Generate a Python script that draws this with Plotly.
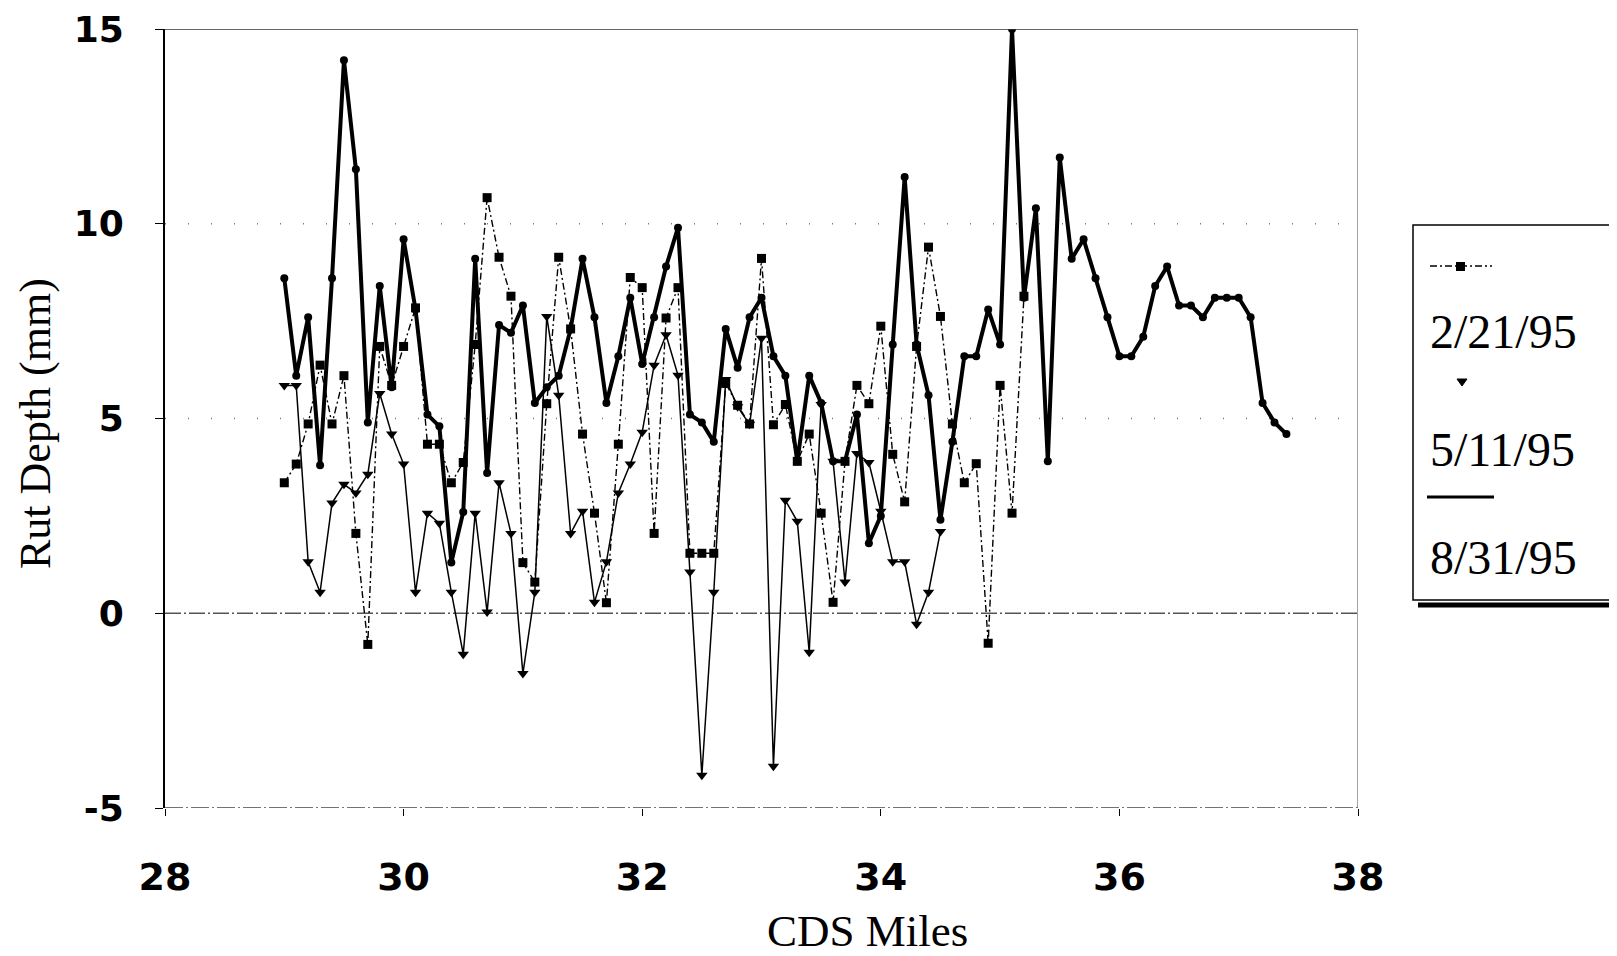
import plotly.graph_objects as go

miles = [29.0, 29.1, 29.2, 29.3, 29.4, 29.5, 29.6, 29.7, 29.8, 29.9,
         30.0, 30.1, 30.2, 30.3, 30.4, 30.5, 30.6, 30.7, 30.8, 30.9,
         31.0, 31.1, 31.2, 31.3, 31.4, 31.5, 31.6, 31.7, 31.8, 31.9,
         32.0, 32.1, 32.2, 32.3, 32.4, 32.5, 32.6, 32.7, 32.8, 32.9,
         33.0, 33.1, 33.2, 33.3, 33.4, 33.5, 33.6, 33.7, 33.8, 33.9,
         34.0, 34.1, 34.2, 34.3, 34.4, 34.5, 34.6, 34.7, 34.8, 34.9,
         35.0, 35.1, 35.2, 35.3, 35.4, 35.5, 35.6, 35.7, 35.8, 35.9,
         36.0, 36.1, 36.2, 36.3, 36.4, 36.5, 36.6, 36.7, 36.8, 36.9,
         37.0, 37.1, 37.2, 37.3, 37.4]

rut_feb = [3.35, 3.83, 4.86, 6.37, 4.86, 6.1, 2.05, -0.8, 6.85, 5.85,
           6.85, 7.84, 4.34, 4.34, 3.35, 3.87, 6.9, 10.67, 9.14, 8.14,
           1.3, 0.8, 5.38, 9.14, 7.3, 4.6, 2.57, 0.27, 4.34, 8.62,
           8.36, 2.05, 7.58, 8.36, 1.54, 1.54, 1.54, 5.9, 5.34, 4.86,
           9.11, 4.84, 5.36, 3.9, 4.6, 2.57, 0.28, 3.9, 5.85, 5.38,
           7.37, 4.08, 2.86, 6.85, 9.4, 7.62, 4.86, 3.35, 3.84, -0.77,
           5.85, 2.57, 8.14]

rut_may = [5.85, 5.85, 1.32, 0.54, 2.83, 3.31, 3.09, 3.57, 5.64, 4.6,
           3.83, 0.54, 2.57, 2.31, 0.54, -1.05, 2.57, 0.03, 3.35, 2.05,
           -1.55, 0.54, 7.62, 5.6, 2.05, 2.62, 0.28, 1.32, 3.09, 3.83,
           4.65, 6.37, 7.15, 6.11, 1.06, -4.16, 0.54, 6.0, 5.3, 4.85,
           7.06, -3.93, 2.9, 2.36, -1.0, 5.36, 3.9, 0.8, 4.1, 3.87,
           2.62, 1.32, 1.32, -0.28, 0.54, 2.1]

rut_aug = [8.6, 6.1, 7.6, 3.8, 8.6, 14.2, 11.4, 4.9, 8.4, 5.8,
           9.6, 7.8, 5.1, 4.8, 1.3, 2.6, 9.1, 3.6, 7.4, 7.2,
           7.9, 5.4, 5.8, 6.1, 7.3, 9.1, 7.6, 5.4, 6.6, 8.1,
           6.4, 7.6, 8.9, 9.9, 5.1, 4.9, 4.4, 7.3, 6.3, 7.6,
           8.1, 6.6, 6.1, 3.9, 6.1, 5.4, 3.9, 3.9, 5.1, 1.8,
           2.5, 6.9, 11.2, 6.9, 5.6, 2.4, 4.4, 6.6, 6.6, 7.8,
           6.9, 15.0, 8.1, 10.4, 3.9, 11.7, 9.1, 9.6, 8.6, 7.6,
           6.6, 6.6, 7.1, 8.4, 8.9, 7.9, 7.9, 7.6, 8.1, 8.1,
           8.1, 7.6, 5.4, 4.9, 4.6]

series_names = ["2/21/95", "5/11/95", "8/31/95"]
x_ticks = [28, 30, 32, 34, 36, 38]
y_ticks = [-5, 0, 5, 10, 15]

OFF = 8  # browser body margin
W, H = 1617 - OFF, 956 - OFF
# plot area in (screen) pixels, converted to figure pixels
L, R, T, B = 165 - OFF, 1358 - OFF, 29 - OFF, 808 - OFF


def px(xs):
    return (xs - OFF - L) / (R - L)


def py(ys):
    return (B - (ys - OFF)) / (B - T)


DASH_FEB = "7px,3px,2px,3px"

fig = go.Figure()
fig.add_trace(go.Scatter(
    x=miles[:len(rut_feb)], y=rut_feb, name=series_names[0], mode="lines+markers",
    line=dict(color="black", width=1.4, dash=DASH_FEB),
    marker=dict(symbol="square", size=9, color="black")))
fig.add_trace(go.Scatter(
    x=miles[:len(rut_may)], y=rut_may, name=series_names[1], mode="lines+markers",
    line=dict(color="black", width=1.5),
    marker=dict(symbol="triangle-down", size=10, color="black")))
fig.add_trace(go.Scatter(
    x=miles[:len(rut_aug)], y=rut_aug, name=series_names[2], mode="lines+markers",
    line=dict(color="black", width=4),
    marker=dict(symbol="circle", size=8, color="black")))

shapes = []
for gy in [5, 10]:
    shapes.append(dict(type="line", xref="x", yref="y", x0=28, x1=38, y0=gy, y1=gy,
                       line=dict(color="#777", width=1.3, dash="1px,22px"), layer="below"))
shapes.append(dict(type="line", xref="x", yref="y", x0=28, x1=38, y0=0, y1=0,
                   line=dict(color="#555", width=1.4, dash="16px,3px,2px,3px"), layer="below"))
shapes.append(dict(type="line", xref="x", yref="y", x0=28, x1=38, y0=-5, y1=-5,
                   line=dict(color="#444", width=1.4, dash="18px,3px,2px,3px"), layer="below"))
shapes.append(dict(type="line", xref="x", yref="y", x0=28, x1=38, y0=15, y1=15,
                   line=dict(color="#333", width=1.6)))
shapes.append(dict(type="line", xref="x", yref="y", x0=38, x1=38, y0=-5, y1=15,
                   line=dict(color="#666", width=1.2)))

# custom legend box (screen pixel positions)
shapes.append(dict(type="rect", xref="paper", yref="paper",
                   x0=px(1413), x1=px(1640), y0=py(600), y1=py(225),
                   line=dict(color="black", width=1.5), fillcolor="white"))
shapes.append(dict(type="line", xref="paper", yref="paper",
                   x0=px(1418), x1=px(1640), y0=py(605), y1=py(605),
                   line=dict(color="black", width=5)))
shapes.append(dict(type="line", xref="paper", yref="paper",
                   x0=px(1430), x1=px(1492), y0=py(266), y1=py(266),
                   line=dict(color="black", width=1.4, dash=DASH_FEB)))
shapes.append(dict(type="rect", xref="paper", yref="paper",
                   x0=px(1456), x1=px(1465), y0=py(271), y1=py(262),
                   line=dict(color="black", width=0), fillcolor="black"))
shapes.append(dict(type="path", xref="paper", yref="paper",
                   path="M {} {} L {} {} L {} {} Z".format(px(1457), py(379), px(1467), py(379), px(1462), py(386)),
                   line=dict(color="black", width=1), fillcolor="black"))
shapes.append(dict(type="line", xref="paper", yref="paper",
                   x0=px(1427), x1=px(1494), y0=py(497), y1=py(497),
                   line=dict(color="black", width=3)))

annotations = []
for name, yc in zip(series_names, [331, 450, 557]):
    annotations.append(dict(text=name, xref="paper", yref="paper", x=px(1428), y=py(yc),
                            xanchor="left", yanchor="middle", showarrow=False,
                            font=dict(family="Liberation Serif", size=48, color="black")))
annotations.append(dict(text="CDS Miles", xref="paper", yref="paper", x=px(867), y=py(931),
                        xanchor="center", yanchor="middle", showarrow=False,
                        font=dict(family="Liberation Serif", size=45, color="black")))
annotations.append(dict(text="Rut Depth (mm)", xref="paper", yref="paper", x=px(36), y=py(424),
                        xanchor="center", yanchor="middle", showarrow=False, textangle=-90,
                        font=dict(family="Liberation Serif", size=44, color="black")))

fig.update_layout(
    width=W, height=H,
    margin=dict(l=L, r=W - R, t=T, b=H - B, autoexpand=False),
    paper_bgcolor="white", plot_bgcolor="white",
    showlegend=False,
    shapes=shapes, annotations=annotations,
    xaxis=dict(range=[28, 38], tickvals=x_ticks, ticktext=[str(v) for v in x_ticks],
               showgrid=False, zeroline=False, showline=False,
               ticks="outside", ticklen=7, tickcolor="black",
               ticklabelstandoff=28, ticklabeloverflow="allow",
               tickfont=dict(family="DejaVu Sans", size=38, color="black", weight="bold")),
    yaxis=dict(range=[-5, 15], tickvals=y_ticks, ticktext=[str(v) for v in y_ticks],
               showgrid=False, zeroline=False, showline=True, linecolor="black", linewidth=2,
               ticks="outside", ticklen=8, tickcolor="black",
               ticklabelstandoff=24, ticklabeloverflow="allow",
               tickfont=dict(family="DejaVu Sans", size=36, color="black", weight="bold")),
)

fig.write_html("out.html")
